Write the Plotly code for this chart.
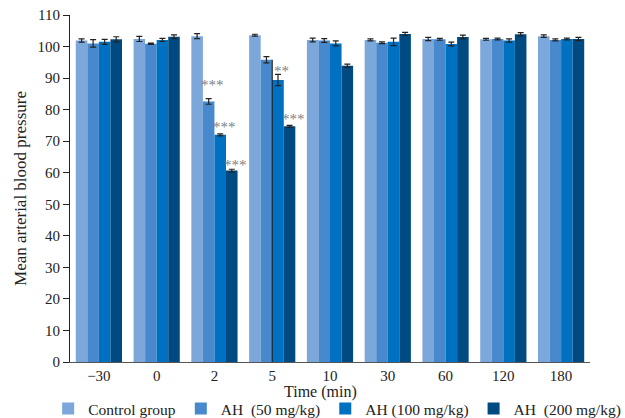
import plotly.graph_objects as go

times = ["\u221230", "0", "2", "5", "10", "30", "60", "120", "180"]
series_names = ["Control group", "AH  (50 mg/kg)", "AH (100 mg/kg)", "AH  (200 mg/kg)"]

control = [101.9, 102.4, 103.3, 103.6, 102.1, 102.1, 102.4, 102.3, 103.3]
ah50 = [101.0, 100.9, 82.6, 95.8, 101.9, 101.2, 102.3, 102.4, 102.1]
ah100 = [101.5, 102.1, 72.0, 89.4, 101.0, 101.5, 100.8, 101.9, 102.4]
ah200 = [102.3, 103.1, 60.7, 74.7, 93.9, 104.0, 103.0, 103.9, 102.4]

control_err = [0.5, 0.8, 0.8, 0.3, 0.6, 0.3, 0.5, 0.3, 0.4]
ah50_err = [1.2, 0.2, 0.9, 1.0, 0.6, 0.3, 0.3, 0.3, 0.3]
ah100_err = [0.8, 0.5, 0.3, 1.8, 0.8, 1.2, 0.6, 0.5, 0.3]
ah200_err = [0.8, 0.6, 0.4, 0.3, 0.5, 0.5, 0.6, 0.5, 0.5]

# significance marks: series index, time index, text, level (value on y axis)
sig_series = [1, 2, 3, 2, 3]
sig_time_idx = [2, 2, 2, 3, 3]
sig_text = ["***", "***", "***", "**", "***"]
sig_level = [88.5, 75.2, 63.2, 92.9, 77.7]

colors = ["#7BA7DA", "#4789CC", "#0070C0", "#004A82"]
values = [control, ah50, ah100, ah200]
errors = [control_err, ah50_err, ah100_err, ah200_err]

FONT = "Liberation Serif"

fig = go.Figure()
for name, vals, errs, col in zip(series_names, values, errors, colors):
    fig.add_trace(go.Bar(
        x=times, y=vals, name=name,
        marker=dict(color=col, line=dict(width=0)),
        error_y=dict(type="data", array=errs, visible=True, color="#222222",
                     thickness=1.2, width=3),
    ))

L, R, T, B = 70, 35, 15, 56
W, H = 625, 418
cat_px = (W - L - R) / len(times)
offsets = [-0.3, -0.1, 0.1, 0.3]

for si, ti, txt, lvl in zip(sig_series, sig_time_idx, sig_text, sig_level):
    fig.add_annotation(
        x=ti, y=lvl, xref="x", yref="y",
        text=txt, showarrow=False,
        xshift=offsets[si] * cat_px + 4, yshift=-2,
        font=dict(family=FONT, size=15, color="#808080"),
    )

# thin dark edge seen at the 5 min group between the 50 and 100 mg/kg bars
fig.add_shape(type="line", xref="x", yref="y", x0=3, x1=3, y0=0, y1=ah50[3],
              line=dict(color="#111111", width=1))

fig.add_annotation(
    x=(320 - L) / (W - L - R), y=-(392 - (H - B)) / (H - T - B),
    xref="paper", yref="paper", text="Time (min)", showarrow=False,
    font=dict(family=FONT, size=16, color="#222222"), yanchor="middle",
)

fig.update_layout(
    width=W, height=H,
    margin=dict(l=L, r=R, t=T, b=B, autoexpand=False),
    paper_bgcolor="white", plot_bgcolor="white",
    barmode="group", bargap=0.2, bargroupgap=0,
    font=dict(family=FONT, size=13, color="#222222"),
    showlegend=True,
    legend=dict(orientation="h", x=-0.042, xanchor="left",
                y=-(409 - (H - B)) / (H - T - B), yanchor="middle",
                font=dict(family=FONT, size=15.5, color="#222222"),
                itemwidth=30, traceorder="normal",
                bgcolor="rgba(0,0,0,0)"),
)

fig.update_xaxes(
    type="category",
    showline=True, linecolor="#555555", linewidth=1.2,
    ticks="", showgrid=False, tickfont=dict(family=FONT, size=15),
)
fig.update_yaxes(
    range=[0, 110], tick0=0, dtick=10,
    showline=True, linecolor="#222222", linewidth=1.2,
    ticks="outside", ticklen=6, tickcolor="#222222",
    showgrid=False, zeroline=False,
    tickfont=dict(family=FONT, size=15),
    title=dict(text="Mean arterial blood pressure", font=dict(family=FONT, size=17), standoff=6),
)

fig.write_html("out.html")
